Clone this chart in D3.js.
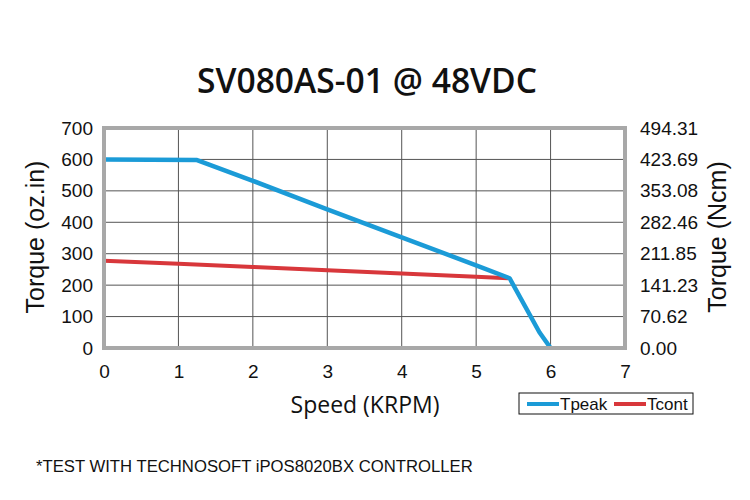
<!DOCTYPE html>
<html>
<head>
<meta charset="utf-8">
<script src="https://cdn.jsdelivr.net/npm/d3@7"></script>
<style>
  body { margin: 0; background: #fff; }
  svg { display: block; }
</style>
</head>
<body>
<svg id="chart" width="750" height="500"></svg>
<script>
// speed in KRPM, torque in oz.in
const tpeakSpeed = [0, 1.25, 2, 3, 4, 5, 5.45, 5.85, 6.0];
const tpeakTorque = [600, 598, 532, 441, 352, 263, 222, 50, 0];
const tcontSpeed = [0, 1, 2, 3, 4, 5, 5.43];
const tcontTorque = [278, 268, 258, 247, 237, 227, 222];

const xTicks = [0, 1, 2, 3, 4, 5, 6, 7];
const yTicks = [0, 100, 200, 300, 400, 500, 600, 700];
const ncmTickLabels = ["0.00", "70.62", "141.23", "211.85", "282.46", "353.08", "423.69", "494.31"];

const seriesNames = ["Tpeak", "Tcont"];
const seriesColors = ["#1b9bd7", "#d8373b"];

const svg = d3.select("#chart");
const plotLeft = 104, plotRight = 625, plotTop = 128, plotBottom = 348;

const xScale = d3.scaleLinear().domain([0, 7]).range([plotLeft, plotRight]);
const yScale = d3.scaleLinear().domain([0, 700]).range([plotBottom, plotTop]);

/**
 * grid lines
 */
const grid = svg.append("g").attr("class", "grid");
grid.selectAll("line.v")
    .data(xTicks.slice(1, -1))
    .enter().append("line")
    .attr("class", "v")
    .attr("x1", d => xScale(d)).attr("x2", d => xScale(d))
    .attr("y1", plotTop).attr("y2", plotBottom)
    .attr("stroke", "#555").attr("stroke-width", 1);
grid.selectAll("line.h")
    .data(yTicks.slice(1, -1))
    .enter().append("line")
    .attr("class", "h")
    .attr("x1", plotLeft).attr("x2", plotRight)
    .attr("y1", d => yScale(d)).attr("y2", d => yScale(d))
    .attr("stroke", "#555").attr("stroke-width", 1);

// axes (labels only, frame drawn separately)
function styleAxis(g) {
    g.select(".domain").remove();
    g.selectAll("line").remove();
    g.selectAll("text")
        .attr("font-family", "'Liberation Sans', Arial, sans-serif")
        .attr("font-size", "19px")
        .attr("fill", "#111");
}

svg.append("g")
    .attr("transform", `translate(0,${plotBottom})`)
    .call(d3.axisBottom(xScale).tickValues(xTicks).tickSize(0).tickPadding(17)
        .tickFormat(d3.format("d")))
    .call(styleAxis);

svg.append("g")
    .attr("transform", `translate(${plotLeft},0)`)
    .call(d3.axisLeft(yScale).tickValues(yTicks).tickSize(0).tickPadding(11))
    .call(styleAxis);

svg.append("g")
    .attr("transform", `translate(${plotRight},0)`)
    .call(d3.axisRight(yScale).tickValues(yTicks).tickSize(0).tickPadding(15)
        .tickFormat((d, i) => ncmTickLabels[i]))
    .call(styleAxis);

/**
 * curves
 */
const line = d3.line().x(d => xScale(d[0])).y(d => yScale(d[1]));
const series = [
    d3.zip(tpeakSpeed, tpeakTorque),
    d3.zip(tcontSpeed, tcontTorque)
];

// draw Tcont first so Tpeak sits on top
[1, 0].forEach(i => {
    svg.append("path")
        .datum(series[i])
        .attr("d", line)
        .attr("fill", "none")
        .attr("stroke", seriesColors[i])
        .attr("stroke-width", i === 0 ? 4.5 : 4)
        .attr("stroke-linejoin", "round");
});

// frame
svg.append("rect")
    .attr("x", plotLeft).attr("y", plotTop)
    .attr("width", plotRight - plotLeft).attr("height", plotBottom - plotTop)
    .attr("fill", "none")
    .attr("stroke", "#a8a8a8")
    .attr("stroke-width", 4);

/**
 * titles
 */
svg.append("text")
    .attr("x", 367).attr("y", 93)
    .attr("text-anchor", "middle")
    .attr("font-family", "'Open Sans', sans-serif")
    .attr("font-weight", 600)
    .attr("font-size", "34px")
    .attr("textLength", 340)
    .attr("lengthAdjust", "spacingAndGlyphs")
    .attr("fill", "#111")
    .text("SV080AS-01 @ 48VDC");

svg.append("text")
    .attr("x", 365).attr("y", 413)
    .attr("text-anchor", "middle")
    .attr("font-family", "'Open Sans', sans-serif")
    .attr("font-size", "23px")
    .attr("fill", "#111")
    .text("Speed (KRPM)");

svg.append("text")
    .attr("transform", "translate(44,237) rotate(-90)")
    .attr("text-anchor", "middle")
    .attr("font-family", "'Liberation Sans', Arial, sans-serif")
    .attr("font-size", "25px")
    .attr("fill", "#111")
    .text("Torque (oz.in)");

svg.append("text")
    .attr("transform", "translate(726,237) rotate(-90)")
    .attr("text-anchor", "middle")
    .attr("font-family", "'Liberation Sans', Arial, sans-serif")
    .attr("font-size", "25px")
    .attr("fill", "#111")
    .text("Torque (Ncm)");

/**
 * legend
 */
const legend = svg.append("g").attr("transform", "translate(519,393)");
legend.append("rect")
    .attr("width", 174).attr("height", 21)
    .attr("fill", "#fff").attr("stroke", "#111").attr("stroke-width", 1);
const legendX = [8, 95];
seriesNames.forEach((name, i) => {
    legend.append("line")
        .attr("x1", legendX[i]).attr("x2", legendX[i] + 32)
        .attr("y1", 11).attr("y2", 11)
        .attr("stroke", seriesColors[i]).attr("stroke-width", 4);
    legend.append("text")
        .attr("x", legendX[i] + 33).attr("y", 17)
        .attr("font-family", "'Liberation Sans', Arial, sans-serif")
        .attr("font-size", "17px")
        .attr("fill", "#111")
        .text(name);
});

// footnote
svg.append("text")
    .attr("x", 36).attr("y", 472)
    .attr("font-family", "'Liberation Sans', Arial, sans-serif")
    .attr("font-size", "16.7px")
    .attr("fill", "#111")
    .text("*TEST WITH TECHNOSOFT iPOS8020BX CONTROLLER");
</script>
</body>
</html>
